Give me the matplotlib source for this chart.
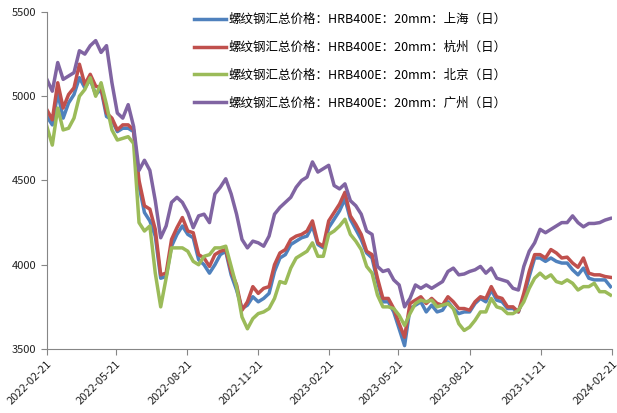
import numpy as np
import pandas as pd
import matplotlib
matplotlib.use('Agg')
import matplotlib.pyplot as plt
import matplotlib.dates as mdates

plt.rcParams['font.family'] = ['Noto Sans CJK SC', 'DejaVu Sans']

# weekly samples, 2022-02-21 .. 2024-02-19
dates = pd.date_range('2022-02-21', periods=105, freq='7D')

shanghai = [4880, 4830, 5020, 4870, 4960, 5010, 5110, 5050, 5100, 5010,
            5040, 4880, 4860, 4790, 4810, 4810, 4790, 4470, 4310, 4260,
            4170, 3920, 3930, 4110, 4180, 4230, 4180, 4160, 4030, 4000,
            3950, 4000, 4060, 4080, 3940, 3850, 3740, 3760, 3810, 3780,
            3800, 3830, 3960, 4040, 4060, 4120, 4140, 4160, 4170, 4230,
            4120, 4100, 4220, 4270, 4320, 4390, 4270, 4210, 4150, 4070,
            4040, 3900, 3780, 3780, 3720, 3620, 3520, 3740, 3760, 3780,
            3720, 3760, 3720, 3730, 3780, 3740, 3710, 3720, 3720, 3770,
            3800, 3780, 3850, 3790, 3780, 3740, 3740, 3720, 3810, 3930,
            4040, 4040, 4020, 4040, 4020, 4010, 4010, 3970, 3940, 3980,
            3920, 3910, 3910, 3910, 3870]

hangzhou = [4920, 4860, 5080, 4930, 5010, 5050, 5190, 5070, 5130, 5060,
            5050, 4900, 4870, 4800, 4830, 4830, 4800, 4500, 4350, 4330,
            4210, 3940, 3950, 4150, 4220, 4280, 4200, 4190, 4060, 4040,
            3990, 4060, 4080, 4090, 3960, 3880, 3730, 3780, 3870, 3830,
            3860, 3870, 4000, 4070, 4090, 4150, 4170, 4180, 4200, 4260,
            4130, 4110, 4260, 4310, 4360, 4430, 4290, 4240, 4180, 4080,
            4060, 3920, 3800, 3800, 3740, 3650, 3570, 3770, 3790, 3810,
            3770, 3800, 3770, 3760, 3810, 3780, 3740, 3740, 3730, 3780,
            3810, 3800, 3870, 3810, 3800, 3750, 3750, 3720, 3830, 3960,
            4060, 4060, 4040, 4090, 4070, 4040, 4045, 4010, 3985, 4040,
            3950, 3940, 3940, 3930, 3925]

beijing = [4820, 4710, 4930, 4800, 4810, 4870, 5000, 5040, 5110, 5000,
           5080, 4950, 4800, 4740, 4750, 4760, 4720, 4250, 4200, 4230,
           3950, 3750, 3920, 4100, 4100, 4100, 4080, 4020, 4000, 4050,
           4060, 4100, 4100, 4110, 3990, 3870, 3690, 3620, 3680, 3710,
           3720, 3740, 3800, 3900, 3890, 3980, 4040, 4060, 4080, 4130,
           4050, 4050, 4180, 4200, 4230, 4270, 4180, 4140, 4090, 3990,
           3950, 3820, 3750, 3750, 3740, 3700, 3640, 3710, 3770, 3790,
           3780, 3790, 3750, 3760, 3770, 3740, 3650, 3610, 3630, 3670,
           3720, 3720, 3800, 3750, 3740, 3710, 3710, 3730, 3780, 3860,
           3920, 3950, 3920, 3940, 3900, 3890, 3910, 3890, 3850, 3870,
           3870, 3890, 3840, 3840, 3820]

guangzhou = [5100, 5030, 5200, 5100, 5120, 5140, 5270, 5250, 5300, 5330,
             5260, 5300, 5080, 4900, 4870, 4950, 4820, 4560, 4620, 4560,
             4380, 4160, 4230, 4370, 4400, 4370, 4310, 4220, 4290, 4300,
             4250, 4420, 4460, 4510, 4420, 4300, 4150, 4100, 4140, 4130,
             4110, 4170, 4300, 4340, 4370, 4400, 4460, 4500, 4520, 4610,
             4550, 4570, 4590, 4470, 4450, 4480, 4380, 4350, 4300, 4200,
             4180, 3990, 3960, 3970, 3910, 3880, 3750, 3800, 3880, 3860,
             3880, 3860, 3880, 3900, 3960, 3980, 3940, 3945, 3960, 3970,
             3990, 3950, 3980, 3920, 3910, 3900, 3860, 3850, 3990, 4080,
             4130, 4210, 4190, 4210, 4230, 4250, 4250, 4290, 4250, 4225,
             4245, 4245, 4250, 4265, 4275]

prefix = '螺纹钢汇总价格：HRB400E：20mm：'
labels = [prefix + c + '（日）' for c in ['上海', '杭州', '北京', '广州']]
colors = ['#4F81BD', '#C0504D', '#9BBB59', '#8064A2']
tick_dates = pd.to_datetime(['2022-02-21', '2022-05-21', '2022-08-21', '2022-11-21',
                             '2023-02-21', '2023-05-21', '2023-08-21', '2023-11-21',
                             '2024-02-21'])

fig = plt.figure(figsize=(6.17, 4.13), dpi=100)
ax = fig.add_axes([0.076, 0.155, 0.916, 0.816])

for vals, c, lab in zip([shanghai, hangzhou, beijing, guangzhou], colors, labels):
    ax.plot(dates, vals, color=c, lw=2.5, label=lab, solid_joinstyle='round')

ax.set_ylim(3500, 5500)
ax.set_yticks([3500, 4000, 4500, 5000, 5500])
ax.set_xlim(tick_dates[0], tick_dates[-1])
ax.set_xticks(tick_dates)
ax.xaxis.set_major_formatter(mdates.DateFormatter('%Y-%m-%d'))
plt.setp(ax.get_xticklabels(), rotation=45, ha='right', rotation_mode='anchor')

for s in ['top', 'right']:
    ax.spines[s].set_visible(False)
for s in ['left', 'bottom']:
    ax.spines[s].set_color('#868686')
ax.tick_params(axis='both', direction='out', length=4, color='#868686',
               labelsize=8, labelcolor='#222222')
ax.tick_params(axis='x', pad=3)

ax.legend(loc='upper left', bbox_to_anchor=(188 / 617, 1 - 7 / 413),
          bbox_transform=fig.transFigure, frameon=False, fontsize=9,
          handlelength=2.5, handletextpad=0.25, labelspacing=1.18,
          borderpad=0)

fig.savefig('out.png', dpi=100)
